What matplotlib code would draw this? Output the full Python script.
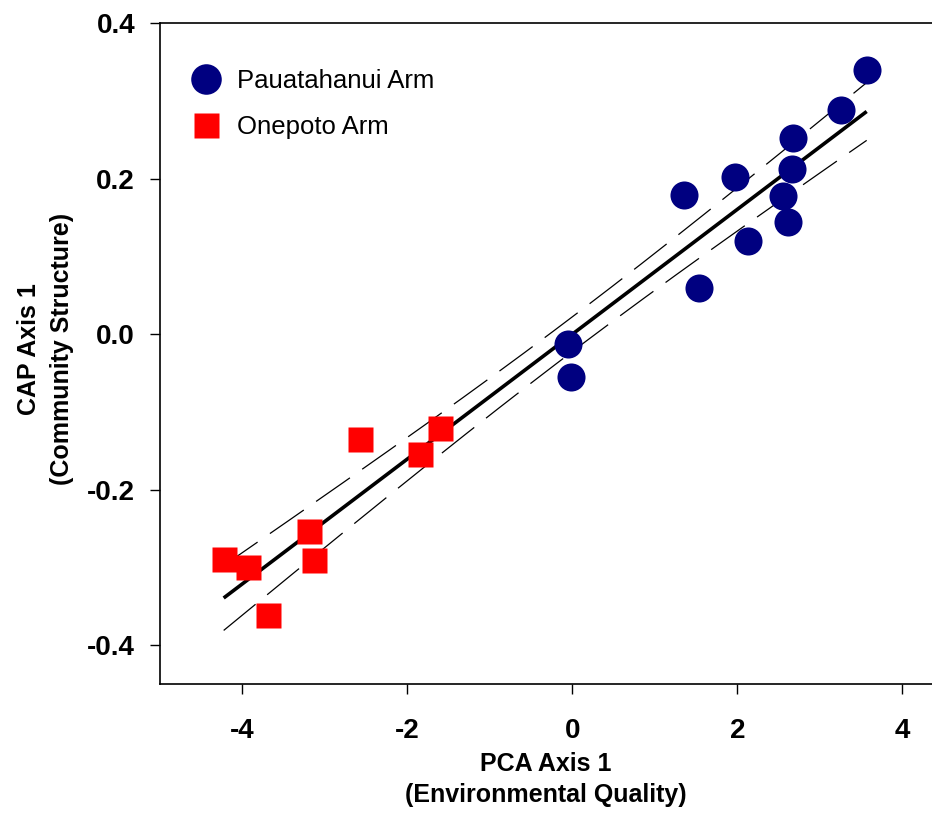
import numpy as np
import matplotlib
matplotlib.use("Agg")
import matplotlib.pyplot as plt
from matplotlib.ticker import FixedLocator, FormatStrFormatter

plt.rcParams['font.family'] = ['Liberation Sans', 'DejaVu Sans']
plt.rcParams['axes.unicode_minus'] = False

# Data
pau_x = [3.568, 3.256, 2.670, 2.661, 2.552, 2.617, 1.973, 1.354, 2.124, 1.541, -0.049, -0.012]
pau_y = [0.340, 0.289, 0.252, 0.213, 0.178, 0.145, 0.202, 0.179, 0.120, 0.059, -0.012, -0.055]
one_x = [-4.228, -3.932, -3.689, -3.188, -3.136, -2.581, -1.845, -1.611]
one_y = [-0.289, -0.299, -0.361, -0.253, -0.290, -0.134, -0.154, -0.121]
series_labels = ["Pauatahanui Arm", "Onepoto Arm"]
x_ticks = [-4, -2, 0, 2, 4]
y_ticks = [-0.4, -0.2, 0.0, 0.2, 0.4]
x_label = "PCA Axis 1\n(Environmental Quality)"
y_label = "CAP Axis 1\n(Community Structure)"
T_CRIT = 2.101  # t(0.975, df=18)

fig = plt.figure(figsize=(9.32, 8.14), dpi=100)
ax = fig.add_axes([160/932, 129.7/814, 1 - 160/932, (684.3-23.3)/814])

# regression with 95% confidence band of the mean
x_all = np.array(pau_x + one_x)
y_all = np.array(pau_y + one_y)
n = len(x_all)
b, a = np.polyfit(x_all, y_all, 1)
resid = y_all - (a + b * x_all)
s = np.sqrt(np.sum(resid**2) / (n - 2))
xm = x_all.mean()
sxx = np.sum((x_all - xm)**2)
xs = np.linspace(x_all.min(), x_all.max(), 200)
yfit = a + b * xs
half = T_CRIT * s * np.sqrt(1.0/n + (xs - xm)**2 / sxx)

ax.plot(xs, yfit, color='black', lw=2.6, solid_capstyle='butt', zorder=2)
for sign in (1, -1):
    ln, = ax.plot(xs, yfit + sign*half, color='black', lw=0.9, zorder=2)
    ln.set_dashes((33, 12))

ax.plot(pau_x, pau_y, 'o', color='#000080', ms=20.2, mec='none', label=series_labels[0], zorder=3)
ax.plot(one_x, one_y, 's', color='#FF0000', ms=18, mec='none', label=series_labels[1], zorder=3)

ax.set_xlim(-5.0, 4.36)
ax.set_ylim(-0.45, 0.4)
ax.xaxis.set_major_locator(FixedLocator(x_ticks))
ax.yaxis.set_major_locator(FixedLocator(y_ticks))
ax.xaxis.set_major_formatter(FormatStrFormatter('%d'))
ax.yaxis.set_major_formatter(FormatStrFormatter('%.1f'))

for side in ('left', 'bottom', 'top'):
    ax.spines[side].set_linewidth(1.2)
ax.spines['right'].set_visible(False)
ax.tick_params(axis='both', direction='out', length=7, width=1.0, labelsize=20)
ax.tick_params(axis='x', pad=17)
ax.tick_params(axis='y', pad=11)
for lab in ax.get_xticklabels() + ax.get_yticklabels():
    lab.set_fontweight('bold')

ax.set_xlabel(x_label, fontsize=18, fontweight='bold', labelpad=6, linespacing=1.35)
ax.set_ylabel(y_label, fontsize=18, fontweight='bold', labelpad=6, linespacing=1.45)
ax.yaxis.set_label_coords(-0.112, 0.507)

leg = ax.legend(loc='upper left', bbox_to_anchor=(0.026, 0.9308), frameon=False,
                fontsize=18.5, handletextpad=0.2, labelspacing=0.85,
                borderaxespad=0.0, borderpad=0.0, handlelength=2.0)
leg.legend_handles[0].set_markersize(22)

fig.savefig("out.png", dpi=100)
